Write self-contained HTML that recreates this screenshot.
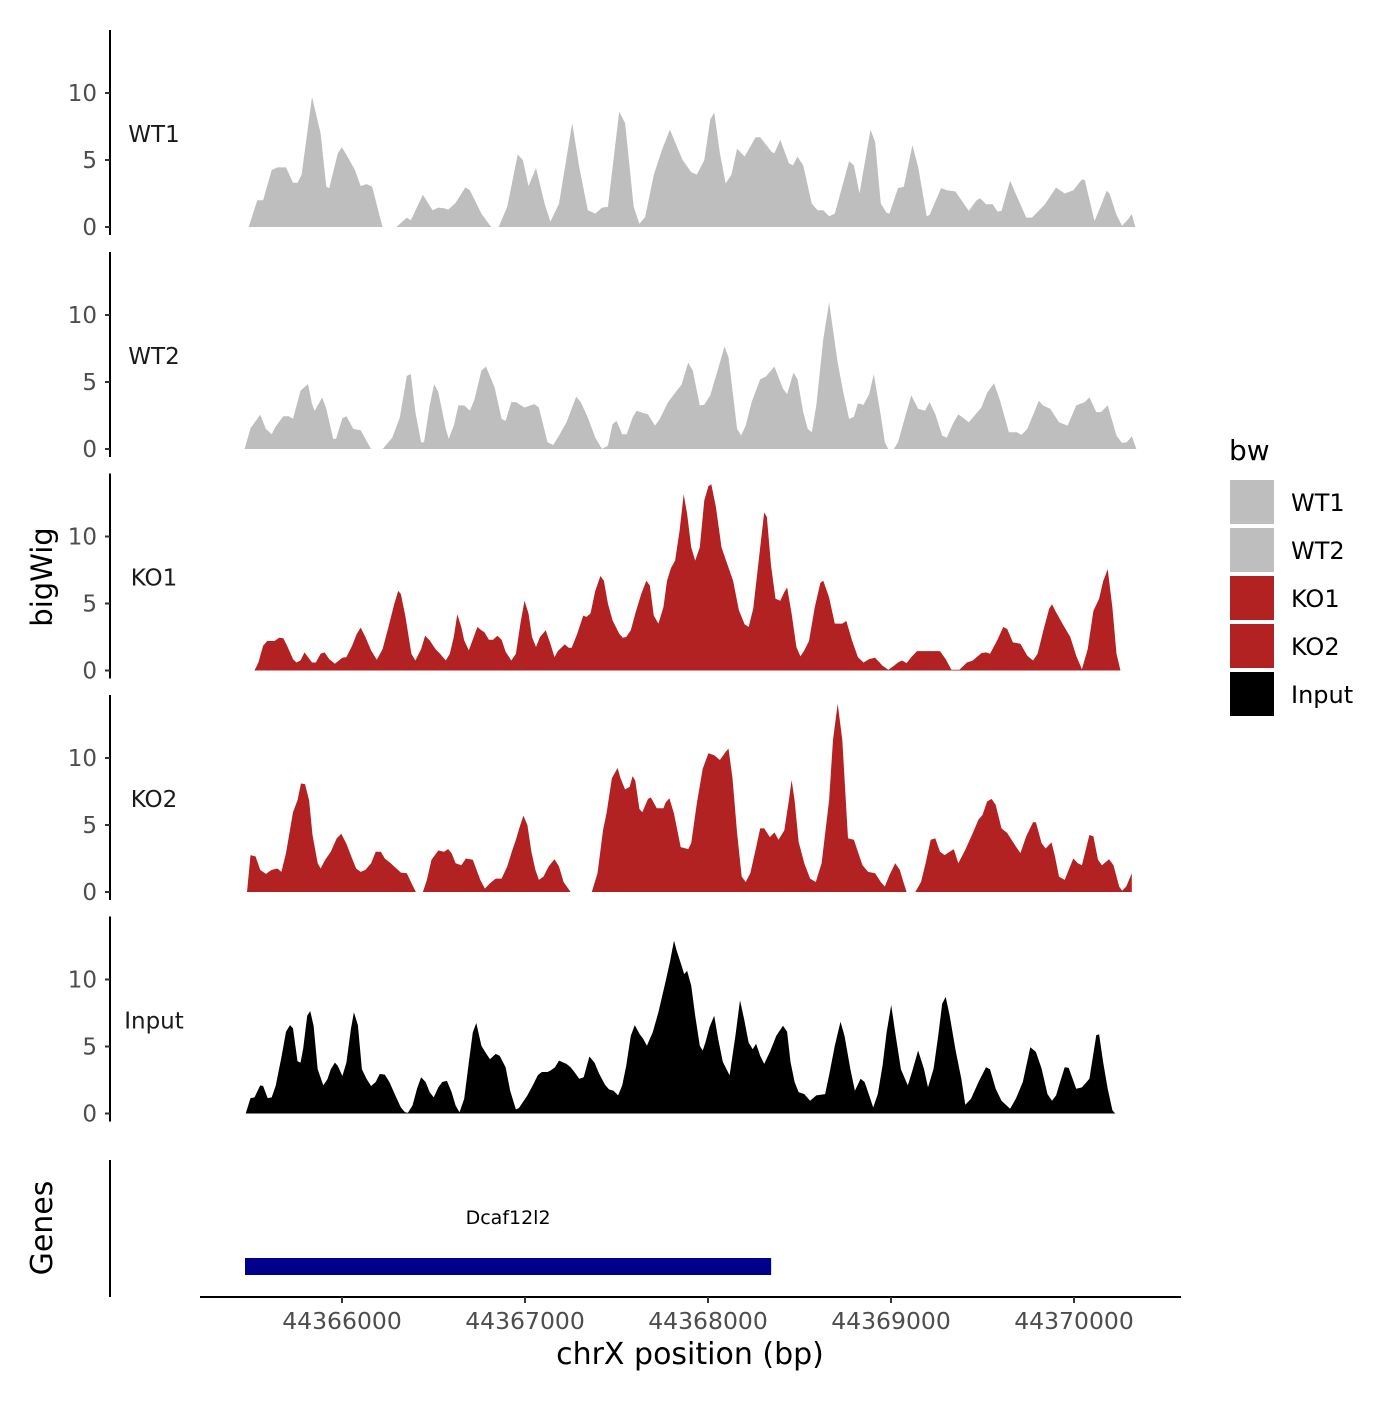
<!DOCTYPE html>
<html><head><meta charset="utf-8"><style>
html,body{margin:0;padding:0;background:#fff;}
svg text{font-family:"DejaVu Sans","Liberation Sans",sans-serif;}
</style></head><body>
<svg id="chart" width="1400" height="1400" viewBox="0 0 1400 1400" xmlns="http://www.w3.org/2000/svg">
<rect width="1400" height="1400" fill="#fff"/>
<g id="tracks"></g>
<g id="axes"></g>
<g id="genes"></g>
<g id="legend"></g>
</svg>
<script>
const START = 44365443;
const trackNames = ["WT1","WT2","KO1","KO2","Input"];
const trackColors = ["#BEBEBE","#BEBEBE","#B22222","#B22222","#000000"];
const yTicks = [0,5,10];
const xTicks = [44366000,44367000,44368000,44369000,44370000];
const geneName = "Dcaf12l2";
const geneStart = 44365470;
const geneEnd = 44368345;

const wt1Pos = [47,94,126,173,204,251,289,314,336,393,440,471,487,534,556,581,628,659,691,722,763,779,854,911,933,999,1052,1083,1115,1137,1178,1231,1256,1319,1372,1413,1460,1517,1545,1576,1617,1664,1696,1743,1815,1853,1900,1941,1978,2010,2072,2104,2151,2182,2214,2261,2308,2349,2418,2465,2496,2537,2569,2591,2622,2653,2685,2716,2757,2817,2842,2905,2920,2952,2999,3021,3046,3077,3124,3156,3187,3219,3250,3328,3354,3385,3407,3445,3470,3501,3533,3548,3595,3627,3674,3705,3752,3768,3831,3862,3909,3982,4025,4044,4076,4113,4139,4161,4208,4296,4327,4396,4459,4506,4553,4600,4616,4669,4701,4735,4751,4789,4820,4851,4873,4892];
const wt1Val = [0,2.0,2.0,4.25,4.45,4.45,3.3,3.3,3.9,9.7,7.0,3.0,2.9,5.5,5.95,5.4,4.25,3.05,3.2,3.0,0.8,0,0,0.7,0.5,2.4,1.25,1.45,1.4,1.3,1.8,2.95,2.75,1.0,0,0,1.5,5.4,5.0,3.05,4.4,1.75,0.4,1.75,7.75,4.5,1.25,1.0,1.45,1.5,8.6,7.75,1.5,0.25,0.75,3.9,5.85,7.25,5.0,4.1,3.9,5.0,8.0,8.55,5.5,3.25,3.9,5.85,5.25,6.7,6.7,5.6,5.5,6.5,4.75,4.6,5.25,4.6,1.75,1.25,1.25,0.8,1.0,4.9,4.6,2.5,4.25,7.25,6.35,1.75,1.05,1.0,2.9,3.0,6.1,4.5,0.8,0.9,2.9,2.75,2.65,1.2,2.0,2.15,1.7,1.7,1.15,1.2,3.45,0.7,0.7,1.65,2.95,2.5,2.75,3.55,3.5,0.45,1.5,2.7,2.5,0.9,0.1,0.55,0.95,0];

const wt2Pos = [25,57,110,141,173,195,236,267,289,330,371,393,408,449,471,509,524,559,581,619,659,685,716,779,832,873,911,933,958,989,1005,1036,1061,1083,1124,1140,1168,1193,1225,1256,1281,1319,1344,1391,1429,1451,1482,1507,1554,1586,1608,1633,1680,1711,1743,1784,1837,1862,1900,1941,1978,2010,2035,2057,2088,2113,2145,2167,2198,2229,2267,2292,2339,2386,2412,2449,2474,2512,2537,2569,2606,2647,2669,2716,2738,2763,2795,2842,2873,2920,2967,2989,3024,3046,3077,3102,3124,3149,3187,3219,3266,3297,3328,3354,3376,3407,3438,3463,3501,3523,3542,3573,3595,3636,3668,3705,3743,3768,3799,3837,3862,3894,3925,3982,4051,4082,4120,4151,4201,4245,4270,4302,4365,4387,4427,4475,4522,4569,4616,4641,4679,4704,4741,4789,4820,4845,4873,4898];
const wt2Val = [0,1.55,2.55,1.5,1.1,1.7,2.45,2.45,2.25,4.35,4.85,3.35,2.85,3.85,3.0,0.75,0.75,2.3,2.45,1.5,1.4,0.75,0,0,0.85,2.35,5.45,5.6,2.75,0.5,0.5,3.25,4.85,4.25,1.5,0.75,1.75,3.25,3.25,2.85,3.7,5.85,6.15,4.6,2.25,2.1,3.5,3.5,3.1,3.25,3.35,3.1,0.5,0.3,1.0,2.0,3.9,3.5,2.35,0.85,0,0.25,1.85,2.1,1.1,1.1,2.35,2.85,2.7,2.6,1.75,2.2,3.5,4.35,4.8,6.45,5.85,3.25,3.3,4.0,5.7,7.65,6.85,1.5,1.0,1.75,3.5,5.2,5.4,6.15,4.5,4.1,5.7,5.2,2.75,1.5,1.25,3.25,8.2,10.95,6.45,4.2,2.25,2.4,3.4,3.3,4.1,5.6,2.5,0.5,0,0,0.5,2.5,4.0,3.0,2.85,3.5,2.6,1.0,0.85,1.85,2.6,2.0,3.1,4.2,4.9,3.7,1.25,1.25,1.05,1.5,3.6,3.25,3.0,2.0,1.75,3.25,3.5,3.85,2.75,2.75,3.25,1.0,0.45,0.5,0.95,0];

const ko1Pos = [79,100,126,148,188,214,236,257,289,308,330,352,371,393,414,440,462,487,518,540,559,581,612,637,659,685,716,747,779,810,842,864,879,904,936,958,989,1011,1036,1068,1093,1124,1146,1168,1187,1209,1225,1250,1297,1319,1335,1360,1382,1407,1429,1451,1482,1507,1532,1554,1576,1595,1617,1639,1670,1696,1718,1736,1774,1796,1812,1843,1875,1893,1915,1941,1969,1988,2010,2035,2072,2091,2110,2135,2160,2192,2220,2239,2261,2286,2314,2333,2355,2377,2402,2424,2443,2465,2487,2512,2537,2559,2575,2600,2631,2653,2694,2726,2757,2779,2804,2842,2864,2879,2901,2926,2952,2974,2989,3014,3040,3062,3083,3109,3140,3171,3187,3219,3250,3291,3313,3344,3376,3407,3438,3470,3511,3542,3573,3595,3617,3642,3668,3699,3825,3856,3887,3931,3972,4004,4051,4076,4098,4139,4170,4192,4223,4264,4302,4333,4358,4390,4421,4437,4459,4496,4537,4569,4600,4632,4663,4694,4716,4741,4767,4789,4810];
const ko1Val = [0,0.6,1.85,2.2,2.2,2.45,2.4,1.85,0.85,0.6,0.75,1.35,1.0,0.6,0.6,1.25,1.35,0.85,0.5,0.75,0.95,1.0,1.85,2.7,3.2,2.5,1.5,0.8,1.6,3.2,4.95,5.95,5.7,4.0,1.25,0.75,1.6,2.6,2.25,1.6,1.25,0.75,1.25,2.5,4.2,3.25,2.25,1.5,3.25,3.0,2.85,2.3,2.3,2.6,2.3,1.4,0.75,1.25,3.5,5.2,4.25,2.5,1.75,2.5,3.0,2.0,1.0,1.45,1.95,1.7,1.7,2.75,4.1,4.0,4.25,5.95,7.05,6.7,5.0,3.75,2.75,2.45,2.5,3.0,4.25,5.7,6.7,6.35,4.1,3.5,4.75,6.7,7.65,8.2,10.45,13.15,11.7,9.2,8.2,9.2,12.7,13.75,13.9,12.2,9.2,8.3,6.7,4.5,3.45,3.25,4.6,9.2,11.8,11.45,7.85,5.35,5.2,5.85,6.2,4.25,1.75,1.05,1.5,2.2,4.7,6.55,6.7,5.45,3.5,3.5,3.7,2.25,1.0,0.6,0.85,0.95,0.35,0.05,0.35,0.6,0.75,0.55,1.0,1.45,1.45,0.85,0.05,0.05,0.6,0.75,1.3,1.35,1.25,2.3,3.25,3.1,2.1,2.0,1.1,0.75,1.25,3.0,4.6,4.95,4.35,3.45,2.5,1.1,0.1,1.6,4.45,5.35,6.65,7.55,4.7,1.25,0.05];

const ko2Pos = [38,57,85,110,141,173,204,226,251,289,314,333,355,377,396,424,440,465,496,528,553,581,612,634,659,685,716,741,769,791,823,854,879,911,942,961,999,1021,1046,1083,1115,1137,1156,1178,1209,1234,1272,1313,1338,1366,1397,1429,1460,1485,1507,1529,1548,1570,1592,1614,1633,1658,1686,1718,1743,1768,1806,1922,1953,1984,2003,2032,2063,2079,2104,2129,2145,2160,2182,2198,2229,2245,2277,2314,2324,2346,2371,2408,2449,2465,2496,2528,2559,2591,2622,2653,2669,2691,2716,2741,2763,2788,2817,2842,2864,2895,2920,2942,2974,2999,3014,3030,3052,3083,3115,3146,3178,3219,3240,3266,3291,3322,3354,3376,3401,3432,3470,3501,3523,3548,3580,3605,3627,3642,3690,3721,3746,3774,3799,3825,3850,3878,3900,3925,3963,4004,4035,4057,4082,4107,4129,4161,4192,4239,4264,4296,4333,4349,4380,4402,4434,4453,4475,4506,4553,4578,4600,4641,4663,4688,4710,4748,4773,4804,4820,4842,4873];
const ko2Val = [0,2.75,2.65,1.65,1.35,1.65,1.75,1.5,2.9,5.95,6.85,8.1,8.05,6.85,4.25,2.15,1.75,2.4,3.0,4.0,4.35,3.6,2.5,1.75,1.5,1.65,2.15,3.0,3.0,2.5,2.15,1.75,1.45,1.4,0.5,0,0,0.9,2.4,3.1,3.0,3.2,2.9,2.15,2.0,2.5,2.4,0.9,0.25,0.65,1.0,1.0,1.9,3.0,3.9,4.9,5.7,5.0,3.0,1.65,0.9,1.15,1.9,2.45,1.9,0.75,0,0,1.4,4.65,5.9,8.5,9.25,8.5,7.65,7.85,8.65,8.3,6.2,5.95,6.95,7.05,6.25,6.25,6.65,7.0,5.85,3.35,3.2,3.65,6.6,9.2,10.35,10.2,9.85,10.45,10.7,8.5,4.4,1.15,0.75,1.4,3.15,4.75,4.75,4.1,4.45,3.9,4.6,6.85,8.35,6.85,3.75,2.15,1.0,0.75,2.15,6.85,11.35,14.05,11.35,4.0,3.9,3.0,2.0,1.5,1.4,0.75,0.4,1.25,2.15,1.65,0.65,0,0,0.75,2.15,3.9,4.0,3.0,2.75,3.0,3.2,2.15,3.15,4.4,5.4,5.75,6.75,6.95,6.5,4.75,4.4,3.4,2.9,4.15,5.2,5.2,3.65,3.25,3.7,2.65,1.15,0.9,2.5,2.15,2.0,4.25,4.15,2.4,2.0,2.45,2.0,0.4,0.1,0.4,1.4];

const inputPos = [31,57,79,110,126,151,173,195,226,251,273,289,314,330,345,367,383,402,424,455,477,496,518,534,559,581,606,622,644,666,691,716,741,763,791,816,848,879,901,917,942,967,989,1014,1036,1058,1083,1105,1130,1156,1178,1199,1225,1250,1272,1291,1319,1341,1366,1397,1419,1451,1476,1507,1523,1548,1570,1601,1627,1649,1680,1696,1721,1743,1784,1806,1827,1853,1878,1909,1937,1963,1994,2016,2041,2066,2088,2110,2135,2157,2182,2204,2223,2255,2286,2324,2349,2371,2386,2412,2427,2443,2465,2487,2512,2528,2543,2565,2591,2612,2638,2675,2707,2732,2754,2779,2801,2820,2842,2864,2895,2930,2967,2989,3008,3030,3052,3083,3115,3149,3197,3219,3250,3281,3303,3335,3360,3391,3413,3438,3460,3485,3511,3533,3558,3580,3611,3649,3674,3705,3737,3759,3790,3815,3837,3856,3878,3909,3941,3963,3994,4035,4076,4098,4129,4161,4208,4239,4277,4318,4349,4380,4412,4437,4459,4481,4506,4528,4569,4600,4641,4679,4694,4716,4741,4767,4782];
const inputVal = [0,1.15,1.2,2.1,2.05,1.15,1.2,2.1,4.2,6.1,6.6,6.35,3.9,3.8,4.85,7.3,7.65,6.55,3.3,2.1,2.55,3.3,3.8,3.55,2.8,3.8,6.35,7.55,6.6,3.3,2.6,2.05,2.35,2.95,2.9,2.35,1.35,0.45,0.1,0.05,0.6,1.85,2.7,2.35,1.6,1.2,1.95,2.35,2.45,1.6,0.6,0.1,1.1,3.8,6.05,6.75,5.05,4.55,4.05,4.45,4.3,3.45,1.7,0.3,0.4,0.9,1.35,2.15,2.85,3.1,3.1,3.2,3.45,3.95,3.7,3.45,3.1,2.6,2.7,4.25,3.8,2.95,2.15,1.8,1.7,1.35,2.1,3.55,5.8,6.6,5.95,5.55,5.05,6.05,7.55,9.8,11.3,12.9,12.15,11.05,10.4,10.65,9.55,7.3,5.05,4.7,5.3,6.45,7.3,5.6,3.85,2.85,5.85,8.45,7.05,5.3,4.8,5.2,4.3,3.7,4.6,5.8,6.55,6.1,3.85,2.35,1.6,1.45,0.95,1.35,1.45,2.85,5.05,6.85,5.8,3.3,1.7,2.6,2.35,1.35,0.45,1.45,3.6,6.05,8.1,6.05,3.3,2.1,3.2,4.7,3.35,1.95,3.35,5.8,8.2,8.7,7.3,4.8,2.6,0.65,1.1,2.35,3.45,3.3,1.85,0.95,0.35,1.1,2.35,4.95,4.6,3.35,1.45,0.95,1.35,2.35,3.45,3.4,1.85,1.95,2.6,5.85,5.9,3.85,1.85,0.25,0];

const trackPos = [wt1Pos, wt2Pos, ko1Pos, ko2Pos, inputPos];
const trackVal = [wt1Val, wt2Val, ko1Val, ko2Val, inputVal];

const NS = "http://www.w3.org/2000/svg";
function mk(tag, attrs, parent, text){
  const e = document.createElementNS(NS, tag);
  for (const k in attrs) e.setAttribute(k, attrs[k]);
  if (text !== undefined) e.textContent = text;
  parent.appendChild(e);
  return e;
}
function xScale(bp){ return 342 + (bp - 44366000) * 0.183; }
const zeroY = [227, 449, 670.5, 892, 1113.5];
const pxPerUnit = 13.4;
function yScale(i, v){ return zeroY[i] - v * pxPerUnit; }

const gT = document.getElementById('tracks');
const gA = document.getElementById('axes');
for (let i = 0; i < trackNames.length; i++){
  const pos = trackPos[i], val = trackVal[i];
  let d = "M" + xScale(START + pos[0]).toFixed(1) + "," + zeroY[i];
  for (let j = 0; j < pos.length; j++){
    d += "L" + xScale(START + pos[j]).toFixed(1) + "," + yScale(i, val[j]).toFixed(1);
  }
  d += "L" + xScale(START + pos[pos.length-1]).toFixed(1) + "," + zeroY[i] + "Z";
  const p = mk('path', {d: d, fill: trackColors[i]}, gT);
  
  

  const ax = mk('line', {x1:110, x2:110, y1: zeroY[i]-197, y2: zeroY[i]+8, stroke:'#000', 'stroke-width':2}, gA);
  
  
  for (const t of yTicks){
    const y = yScale(i, t);
    const tk = mk('line', {x1:105, x2:110, y1:y, y2:y, stroke:'#333', 'stroke-width':2}, gA);
    
    
    const tl = mk('text', {x:97, y:y+8, 'text-anchor':'end', 'font-size':23, fill:'#4d4d4d'}, gA, String(t));
    
    
  }
  const lab = mk('text', {x:154, y:zeroY[i]-85, 'text-anchor':'middle', 'font-size':23, fill:'#1a1a1a'}, gA, trackNames[i]);
  
  
}
const yt = mk('text', {x:0, y:0, transform:'translate(52,577) rotate(-90)', 'text-anchor':'middle', 'font-size':29, fill:'#000'}, gA, 'bigWig');



// genes panel
const gG = document.getElementById('genes');
const ga = mk('line', {x1:110, x2:110, y1:1160, y2:1297, stroke:'#000', 'stroke-width':2}, gG);


const gt = mk('text', {x:0, y:0, transform:'translate(52,1228) rotate(-90)', 'text-anchor':'middle', 'font-size':30, fill:'#000'}, gG, 'Genes');


const gb = mk('rect', {x: xScale(geneStart), y:1258, width: xScale(geneEnd)-xScale(geneStart), height:17, fill:'#00008B'}, gG);


const gl = mk('text', {x:(xScale(geneStart)+xScale(geneEnd))/2, y:1224, 'text-anchor':'middle', 'font-size':19, fill:'#000'}, gG, geneName);



const xa = mk('line', {x1:200, x2:1181, y1:1297, y2:1297, stroke:'#000', 'stroke-width':2}, gG);


for (const t of xTicks){
  const x = xScale(t);
  const tk = mk('line', {x1:x, x2:x, y1:1297, y2:1303, stroke:'#333', 'stroke-width':2}, gG);
  
  
  const tl = mk('text', {x:x, y:1329, 'text-anchor':'middle', 'font-size':23.5, fill:'#4d4d4d'}, gG, String(t));
  
  
}
const xt = mk('text', {x:690, y:1364, 'text-anchor':'middle', 'font-size':30, fill:'#000'}, gG, 'chrX position (bp)');



// legend
const gL = document.getElementById('legend');
const lt = mk('text', {x:1229, y:460, 'font-size':28, fill:'#000'}, gL, 'bw');


for (let i = 0; i < trackNames.length; i++){
  const y = 480 + i * 48;
  const k = mk('rect', {x:1230, y:y, width:44, height:44, fill:trackColors[i]}, gL);
  
  
  const tx = mk('text', {x:1291, y:y+31, 'font-size':24, fill:'#000'}, gL, trackNames[i]);
  
  
}
</script>
</body></html>
